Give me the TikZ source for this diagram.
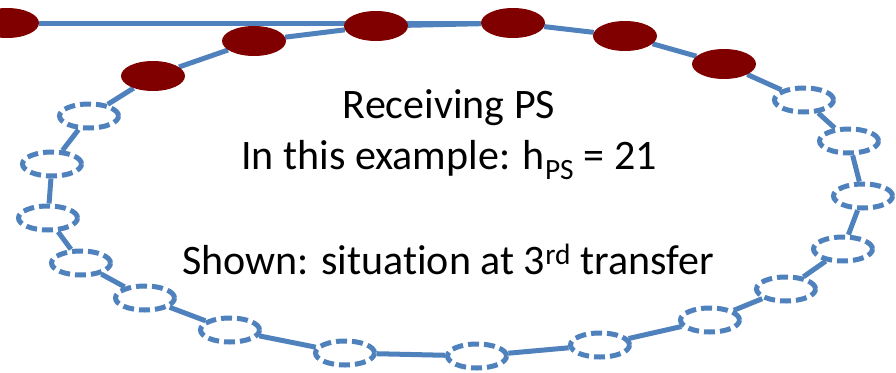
\documentclass[tikz,border=0pt]{standalone}
\usepackage{fontspec}
\setmainfont{Carlito}[Ligatures=NoCommon]
\usetikzlibrary{shapes.geometric,backgrounds}
\definecolor{ringblue}{HTML}{4F81BD}
\definecolor{hopred}{HTML}{800000}
\tikzset{
  full/.style={ellipse, fill=hopred, draw=none, minimum width=64pt, minimum height=30pt, inner sep=0pt},
  empty/.style={ellipse, draw=ringblue, fill=white, line width=5pt, dash pattern=on 11pt off 5pt, minimum width=59pt, minimum height=24pt, inner sep=0pt},
  link/.style={draw=ringblue, line width=5pt},
  txt/.style={anchor=base, font=\fontsize{42}{50}\selectfont, inner sep=0pt}
}
\begin{document}
\begin{tikzpicture}[x=1pt,y=-1pt]
\useasboundingbox (0,0) rectangle (896,372);
% filled
\node[full] (f0) at (7,23) {};
\node[full] (f1) at (153,76) {};
\node[full] (f2) at (254,41) {};
\node[full] (f3) at (376,26) {};
\node[full] (f4) at (513,23) {};
\node[full] (f5) at (625,36) {};
\node[full] (f6) at (724,64) {};
% dashed
\node[empty] (d1) at (804,100) {};
\node[empty] (d2) at (849,141) {};
\node[empty] (d3) at (863,196) {};
\node[empty] (d4) at (843,249) {};
\node[empty] (d5) at (786,289) {};
\node[empty] (d6) at (710,320) {};
\node[empty] (d7) at (600,345) {};
\node[empty] (d8) at (477,356) {};
\node[empty] (d9) at (345,353) {};
\node[empty] (d10) at (230,330) {};
\node[empty] (d11) at (145,298) {};
\node[empty] (d12) at (81,263) {};
\node[empty] (d13) at (48,218) {};
\node[empty] (d14) at (52,164) {};
\node[empty] (d15) at (89,116) {};
\begin{pgfonlayer}{background}
\draw[link] (f0) -- (f4);
\draw[link] (f1) -- (f2) -- (f3) -- (f4) -- (f5) -- (f6) -- (d1) -- (d2) -- (d3) -- (d4) -- (d5) -- (d6) -- (d7) -- (d8) -- (d9) -- (d10) -- (d11) -- (d12) -- (d13) -- (d14) -- (d15) -- (f1);
\end{pgfonlayer}
% text
\node[txt] (t1) at (449,118) {Receiving PS};
\node[txt] (t2) at (449,169) {In this example: h\textsubscript{PS} = 21};
\node[txt] (t3) at (448,274) {Shown: situation at 3\textsuperscript{rd} transfer};
\end{tikzpicture}
\end{document}
